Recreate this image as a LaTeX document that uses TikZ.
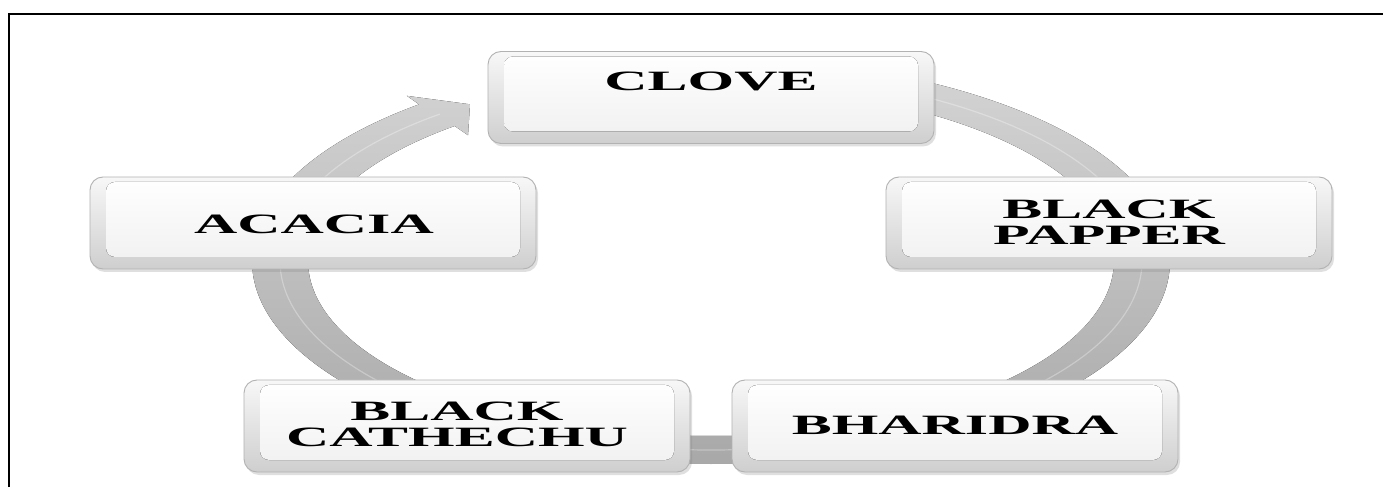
\documentclass[tikz,border=0pt]{standalone}
\usepackage{fontspec}
\setmainfont{Liberation Serif}
\usepackage{graphicx}
\usetikzlibrary{shadows}
\newcommand\boxtext[1]{\scalebox{2.14}[1]{\begin{tabular}{@{}c@{}}#1\end{tabular}}}
\tikzset{
  boxst/.style={rounded corners=13pt, minimum width=446pt, minimum height=92pt,
    draw=gray!60, line width=0.9pt, top color=gray!6, bottom color=gray!38, inner sep=0pt,
    drop shadow={shadow xshift=2pt, shadow yshift=-3pt, opacity=0.25},
    path picture={\fill[rounded corners=9pt, top color=white, bottom color=gray!12]
      ([xshift=16pt,yshift=-5pt]path picture bounding box.north west) rectangle
      ([xshift=-16pt,yshift=12pt]path picture bounding box.south east);}},
  txt/.style={font=\fontsize{28}{25}\selectfont\bfseries, inner sep=0pt, text=black},
  ringshade/.style={top color=gray!33, bottom color=gray!68, draw=none},
  frame/.style={line width=2pt, line join=miter}
}
\begin{document}
\begin{tikzpicture}[x=1pt,y=1pt]
\useasboundingbox (0,0) rectangle (1383,487);
\fill[white] (0,0) rectangle (1383,487);
% frame
\draw[frame] (9,0) -- (9,472.7) -- (1383,472.7);
% cycle ring with arrowhead
\fill[ringshade] ({711+459*cos(90)},{226+203*sin(90)})
  arc[start angle=90, end angle=-230.5, x radius=459, y radius=203]
  -- ({711+478*cos(129.5)},{226+214*sin(129.5)})
  -- ({711+431*cos(124)},{226+189*sin(124)})
  -- ({711+382*cos(129.5)},{226+163*sin(129.5)})
  -- ({711+403*cos(129.5)},{226+175*sin(129.5)})
  arc[start angle=-230.5, end angle=90, x radius=403, y radius=175] -- cycle;
\draw[white, opacity=0.3, line width=1.2pt] ({711+431*cos(90)},{226+189*sin(90)})
  arc[start angle=90, end angle=-231, x radius=431, y radius=189];
% boxes
\node[boxst] (clove) at (711,389.5) {};
\node[boxst] (pepper) at (1109,264) {};
\node[boxst] (acacia) at (313,264) {};
\node[boxst] (bharidra) at (955,61) {};
\node[boxst] (catechu) at (467,61) {};
% labels
\node[txt] (tclove) at (711,402) {\boxtext{CLOVE}};
\node[txt] (tpepper) at (1109,261) {\boxtext{BLACK\\PAPPER}};
\node[txt] (tacacia) at (314,258.75) {\boxtext{ACACIA}};
\node[txt] (tbharidra) at (955,57.75) {\boxtext{BHARIDRA}};
\node[txt] (tcatechu) at (457,59.25) {\boxtext{BLACK\\CATHECHU}};
\end{tikzpicture}
\end{document}
